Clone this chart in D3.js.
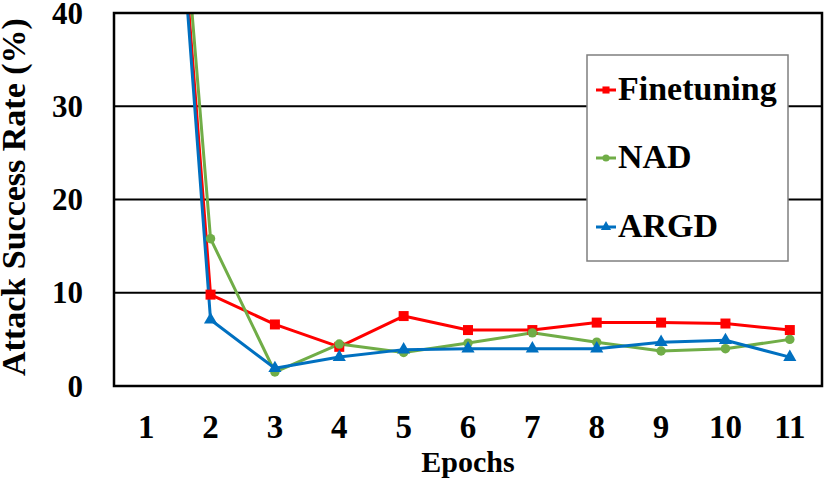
<!DOCTYPE html>
<html>
<head>
<meta charset="utf-8">
<script src="https://cdn.jsdelivr.net/npm/d3@7"></script>
<style>
  html, body { margin: 0; padding: 0; background: #fff; }
  svg { display: block; }
  text { font-family: "Liberation Serif", "Times New Roman", serif; font-weight: bold; fill: #000; }
</style>
</head>
<body>
<svg id="chart" width="830" height="483"></svg>
<script>
const epochs = [1, 2, 3, 4, 5, 6, 7, 8, 9, 10, 11];
const finetuning = [100, 9.8, 6.6, 4.2, 7.5, 6.0, 6.0, 6.8, 6.8, 6.7, 6.0];
const nad        = [100, 15.8, 1.5, 4.5, 3.6, 4.6, 5.7, 4.7, 3.75, 4.0, 5.0];
const argd       = [100, 7.1, 1.9, 3.1, 3.9, 4.0, 4.0, 4.0, 4.7, 4.9, 3.1];
const yTicks = [0, 10, 20, 30, 40];
const seriesNames = ["Finetuning", "NAD", "ARGD"];
const seriesColors = ["#FF0000", "#70AD47", "#0070C0"];
const seriesShapes = [d3.symbolSquare, d3.symbolCircle, d3.symbolTriangle];

const svg = d3.select("#chart");
const L = 114, R = 822, T = 13, B = 386;

const x = d3.scaleBand().domain(epochs).range([L, R]).padding(0);
const cx = d => x(d) + x.bandwidth() / 2;
const y = d3.scaleLinear().domain([0, 40]).range([B, T]);

// clip
svg.append("defs").append("clipPath").attr("id", "plotClip")
  .append("rect").attr("x", L).attr("y", T).attr("width", R - L).attr("height", B - T);

// gridlines
svg.append("g").selectAll("line").data(yTicks.filter(v => v > 0 && v < 40)).join("line")
  .attr("x1", L).attr("x2", R).attr("y1", d => y(d)).attr("y2", d => y(d))
  .attr("stroke", "#000").attr("stroke-width", 2);

// y tick labels
svg.append("g").selectAll("text").data(yTicks).join("text")
  .attr("x", 83).attr("y", d => y(d))
  .attr("text-anchor", "end").attr("dominant-baseline", "central")
  .style("font-size", "31px").text(d => d);

// x tick labels
svg.append("g").selectAll("text").data(epochs).join("text")
  .attr("x", d => cx(d)).attr("y", 438)
  .attr("text-anchor", "middle")
  .style("font-size", "33px").text(d => d);

// axis titles
svg.append("text").attr("x", 468).attr("y", 472).attr("text-anchor", "middle")
  .style("font-size", "30px").text("Epochs");
svg.append("text").attr("transform", "translate(25,197) rotate(-90)").attr("text-anchor", "middle")
  .style("font-size", "34px").text("Attack Success Rate (%)");

// series
const allSeries = [finetuning, nad, argd];
const gPlot = svg.append("g").attr("clip-path", "url(#plotClip)");
const line = d3.line().x((d, i) => cx(epochs[i])).y(d => y(d));
allSeries.forEach((vals, k) => {
  gPlot.append("path").datum(vals).attr("d", line)
    .attr("fill", "none").attr("stroke", seriesColors[k]).attr("stroke-width", 3)
    .attr("stroke-linejoin", "round");
});
allSeries.forEach((vals, k) => {
  const sizes = [100, 70, 75];
  gPlot.append("g").selectAll("path").data(vals).join("path")
    .attr("transform", (d, i) => `translate(${cx(epochs[i])},${y(d)})`)
    .attr("d", d3.symbol().type(seriesShapes[k]).size(sizes[k]))
    .attr("fill", seriesColors[k]);
});

// border
svg.append("rect").attr("x", L).attr("y", T).attr("width", R - L).attr("height", B - T)
  .attr("fill", "none").attr("stroke", "#000").attr("stroke-width", 2.5);

// legend
const lg = svg.append("g");
lg.append("rect").attr("x", 587).attr("y", 55).attr("width", 201).attr("height", 206)
  .attr("fill", "#fff").attr("stroke", "#7f7f7f").attr("stroke-width", 1.5);
const legY = [90, 158, 227];
seriesNames.forEach((name, k) => {
  lg.append("line").attr("x1", 596).attr("x2", 616).attr("y1", legY[k]).attr("y2", legY[k])
    .attr("stroke", seriesColors[k]).attr("stroke-width", 3);
  lg.append("path").attr("transform", `translate(606,${legY[k]})`)
    .attr("d", d3.symbol().type(seriesShapes[k]).size([50, 40, 45][k]))
    .attr("fill", seriesColors[k]);
  lg.append("text").attr("x", 618).attr("y", legY[k] + 10)
    .style("font-size", "34px").text(name);
});
</script>
</body>
</html>
